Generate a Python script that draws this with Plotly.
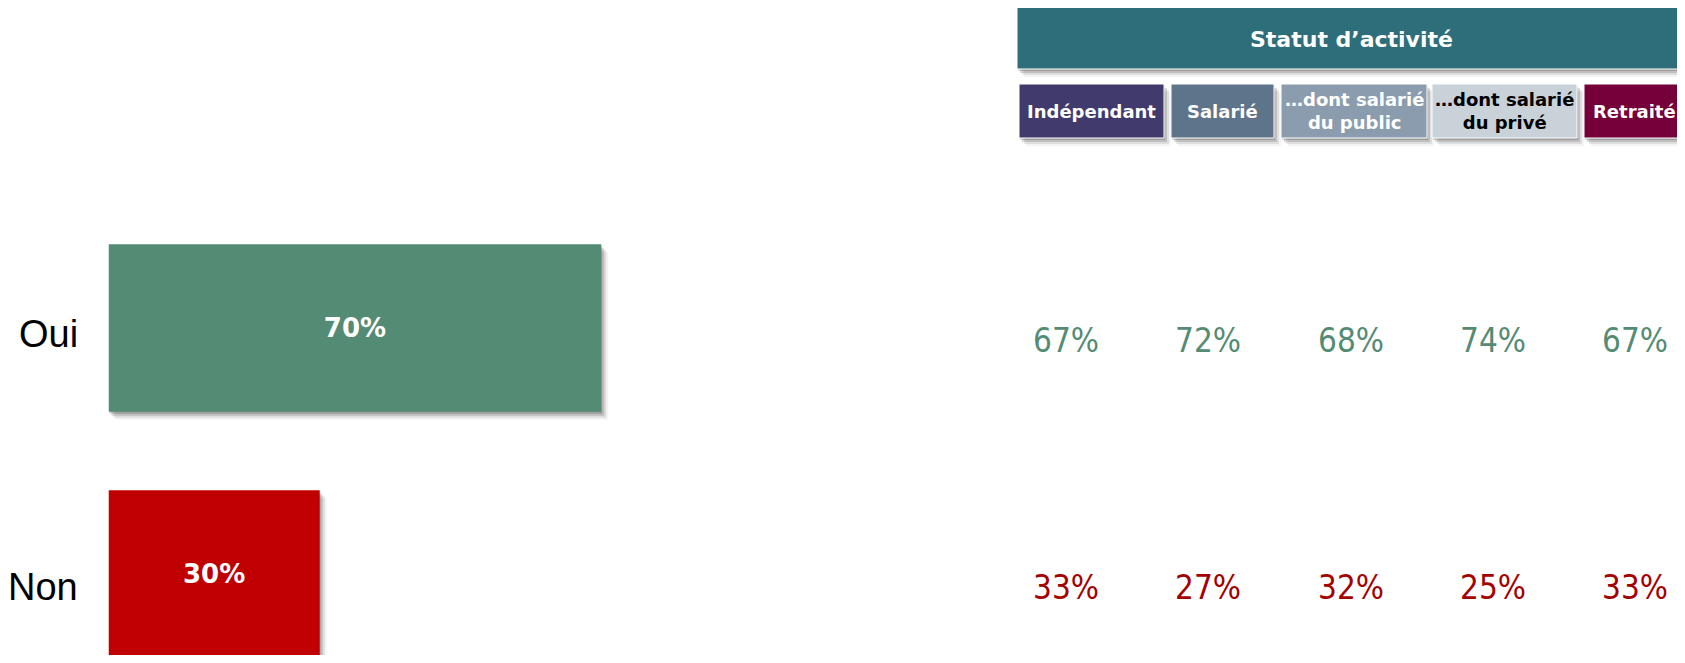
import plotly.graph_objects as go

# ---------------- data ----------------
answers = ["Oui", "Non"]
overall = [70, 30]
header_title = "Statut d’activité"
groups = ["Indépendant", "Salarié", "…dont salarié<br>du public", "…dont salarié<br>du privé", "Retraité"]
oui_by_group = [67, 72, 68, 74, 67]
non_by_group = [33, 27, 32, 25, 33]

# ---------------- styles / layout ----------------
PAGE_W, PAGE_H = 1685, 663
OFF = 8                      # default body margin of the html page
W, H = PAGE_W - OFF, PAGE_H - 2 * OFF

bar_colors = ["#548B75", "#C00000"]
value_colors = ["#548B75", "#A30000"]
group_fill = ["#403A6D", "#5E748A", "#8B9CAE", "#C9D1D9", "#76003A"]
group_text = ["white", "white", "white", "black", "white"]
header_fill = "#2E6E7A"

# target positions in page pixels
X_LEFT_PX, X_RIGHT_PX = 108.5, 812.5      # 0% and 100% on the bar axis
ROW_CENTER_PX = [328, 574]                 # bar centres
BAR_WIDTH = 0.68

label_right_px = 80
label_y_px = [334, 587]
col_x_px = [1066, 1208, 1351, 1493, 1635]
row_y_px = [338, 585]
header_box = (1017, 1685, 7.5, 69)
group_boxes = [(1019, 1164), (1171, 1274), (1281, 1427), (1432, 1577), (1584, 1685)]
group_box_y = (84, 138)

SHADOW = [(1, 2, 0.17), (3, 4, 0.14), (5, 6, 0.09), (7, 8, 0.045)]


def px(x):
    return (x - OFF) / W


def py(y):
    return 1 - (y - OFF) / H


PX_PER_ROW = ROW_CENTER_PX[1] - ROW_CENTER_PX[0]
y_top = 0 - (ROW_CENTER_PX[0] - OFF) / PX_PER_ROW
y_bot = 1 + (OFF + H - ROW_CENTER_PX[1]) / PX_PER_ROW
Y_RANGE = [y_bot, y_top]
PX_PER_PCT = (X_RIGHT_PX - X_LEFT_PX) / 100.0

fig = go.Figure()

fig.add_trace(go.Bar(
    y=answers, x=overall, orientation="h", width=BAR_WIDTH,
    marker=dict(color=bar_colors, line=dict(width=0)),
    text=[f"{v}%" for v in overall], textposition="inside",
    insidetextanchor="middle",
    textfont=dict(family="DejaVu Sans", size=26, color="white", weight="bold"),
    hoverinfo="skip",
))

shapes = []
# bar shadows (data coordinates)
for i, v in enumerate(overall):
    for dx, dy, a in SHADOW:
        ux = dx / PX_PER_PCT
        uy = dy / PX_PER_ROW
        shapes.append(dict(
            type="rect", xref="x", yref="y", layer="below",
            x0=0 + ux, x1=v + ux,
            y0=i - BAR_WIDTH / 2 + uy, y1=i + BAR_WIDTH / 2 + uy,
            fillcolor=f"rgba(0,0,0,{a})", line=dict(width=0),
        ))


def box(x0, x1, y0, y1, color):
    for dx, dy, a in SHADOW:
        shapes.append(dict(
            type="rect", xref="paper", yref="paper",
            x0=px(x0 + dx), x1=px(x1 + dx), y0=py(y1 + dy), y1=py(y0 + dy),
            fillcolor=f"rgba(0,0,0,{a})", line=dict(width=0),
        ))
    shapes.append(dict(
        type="rect", xref="paper", yref="paper",
        x0=px(x0), x1=px(x1), y0=py(y1), y1=py(y0),
        fillcolor=color, line=dict(width=1, color="white"),
    ))


annotations = []
hx0, hx1, hy0, hy1 = header_box
box(hx0, hx1, hy0, hy1, header_fill)
annotations.append(dict(
    text=header_title, xref="paper", yref="paper",
    x=px((hx0 + hx1) / 2), y=py((hy0 + hy1) / 2 + 1), showarrow=False,
    xanchor="center", yanchor="middle",
    font=dict(family="DejaVu Sans", size=22, color="white", weight="bold"),
))

for (bx0, bx1), name, fill, tc in zip(group_boxes, groups, group_fill, group_text):
    box(bx0, bx1, group_box_y[0], group_box_y[1], fill)
    annotations.append(dict(
        text=name, xref="paper", yref="paper",
        x=px((bx0 + bx1) / 2), y=py((group_box_y[0] + group_box_y[1]) / 2), showarrow=False,
        xanchor="center", yanchor="middle",
        font=dict(family="DejaVu Sans", size=18, color=tc, weight="bold"),
    ))

# row labels
for lab, yy in zip(answers, label_y_px):
    annotations.append(dict(
        text=lab, xref="paper", yref="paper", x=px(label_right_px), y=py(yy),
        showarrow=False, xanchor="right", yanchor="middle",
        font=dict(family="Liberation Sans", size=38, color="black"),
    ))

# table values
for r, row_vals in enumerate([oui_by_group, non_by_group]):
    for c, v in enumerate(row_vals):
        annotations.append(dict(
            text=f"{v}%", xref="paper", yref="paper",
            x=px(col_x_px[c]), y=py(row_y_px[r] + 2), showarrow=False,
            xanchor="center", yanchor="middle",
            font=dict(family="DejaVu Sans Condensed, DejaVu Sans", size=33, color=value_colors[r]),
        ))

fig.update_layout(
    width=W, height=H, margin=dict(l=0, r=0, t=0, b=0),
    paper_bgcolor="white", plot_bgcolor="white", showlegend=False,
    xaxis=dict(domain=[px(X_LEFT_PX), px(X_RIGHT_PX)], range=[0, 100],
               visible=False, fixedrange=True),
    yaxis=dict(domain=[0, 1], type="category", categoryarray=answers,
               range=Y_RANGE, visible=False, fixedrange=True),
    shapes=shapes, annotations=annotations,
)

fig.write_html("out.html")
